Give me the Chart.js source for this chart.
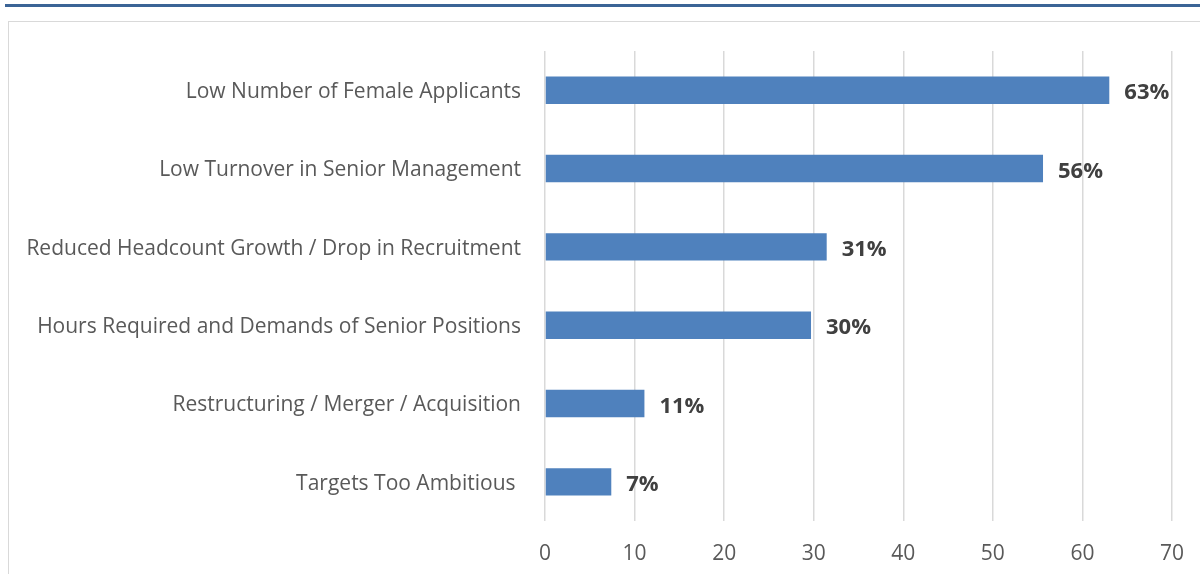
<!DOCTYPE html>
<html>
<head>
<meta charset="utf-8">
<script src="https://cdn.jsdelivr.net/npm/chart.js@4"></script>
<style>
    html, body { margin: 0; padding: 0; background: #fff; }
    body { width: 1200px; height: 574px; position: relative; overflow: hidden; }
    .topline { position: absolute; left: 5px; right: 0; top: 4px; height: 3px; background: #3b6496; }
    .frame { position: absolute; left: 8px; top: 21px; width: 1300px; height: 700px; border: 1.5px solid #d9d9d9; }
    #reasonsChart { position: absolute; left: 0; top: 0; }
</style>
</head>
<body>
<div class="topline"></div>
<div class="frame"></div>
<canvas id="reasonsChart" width="1200" height="574"></canvas>
<script>
const categories = [
    'Low Number of Female Applicants',
    'Low Turnover in Senior Management',
    'Reduced Headcount Growth / Drop in Recruitment',
    'Hours Required and Demands of Senior Positions',
    'Restructuring / Merger / Acquisition',
    'Targets Too Ambitious '
];
const shares = [63.0, 55.6, 31.45, 29.7, 11.1, 7.4];
const xTicks = [0, 10, 20, 30, 40, 50, 60, 70];

const valueLabels = {
    id: 'valueLabels',
    afterDatasetsDraw(chart) {
        const ctx = chart.ctx;
        const meta = chart.getDatasetMeta(0);
        ctx.save();
        ctx.font = 'bold 22px "Open Sans"';
        ctx.fillStyle = '#404040';
        ctx.textAlign = 'left';
        ctx.textBaseline = 'middle';
        meta.data.forEach((bar, i) => {
            ctx.fillText(Math.round(shares[i]) + '%', bar.x + 15, bar.y + 3);
        });
        ctx.restore();
    }
};

const ctx = document.getElementById('reasonsChart').getContext('2d');
new Chart(ctx, {
    type: 'bar',
    data: {
        labels: categories,
        datasets: [{
            data: shares,
            backgroundColor: '#4f81bd',
            borderWidth: 0,
            barPercentage: 0.35,
            categoryPercentage: 1
        }]
    },
    options: {
        responsive: false,
        animation: false,
        indexAxis: 'y',
        layout: { padding: { left: 0, top: 51, right: 28, bottom: 0 } },
        plugins: {
            legend: { display: false },
            tooltip: { enabled: false }
        },
        scales: {
            x: {
                min: 0,
                max: 70,
                afterBuildTicks: scale => { scale.ticks = xTicks.map(v => ({ value: v })); },
                afterFit: scale => { scale.height = 53; scale.paddingRight = 0; },
                grid: { color: '#d9d9d9', lineWidth: 1.5, drawTicks: false },
                border: { display: false },
                ticks: {
                    padding: 20,
                    color: '#595959',
                    font: { family: 'Open Sans', size: 21 }
                }
            },
            y: {
                afterFit: scale => { scale.width = 545; },
                grid: { display: false, drawTicks: false },
                border: { display: false },
                ticks: {
                    padding: 24,
                    labelOffset: 2,
                    color: '#595959',
                    font: { family: 'Open Sans', size: 21 }
                }
            }
        }
    },
    plugins: [valueLabels]
});
</script>
</body>
</html>
